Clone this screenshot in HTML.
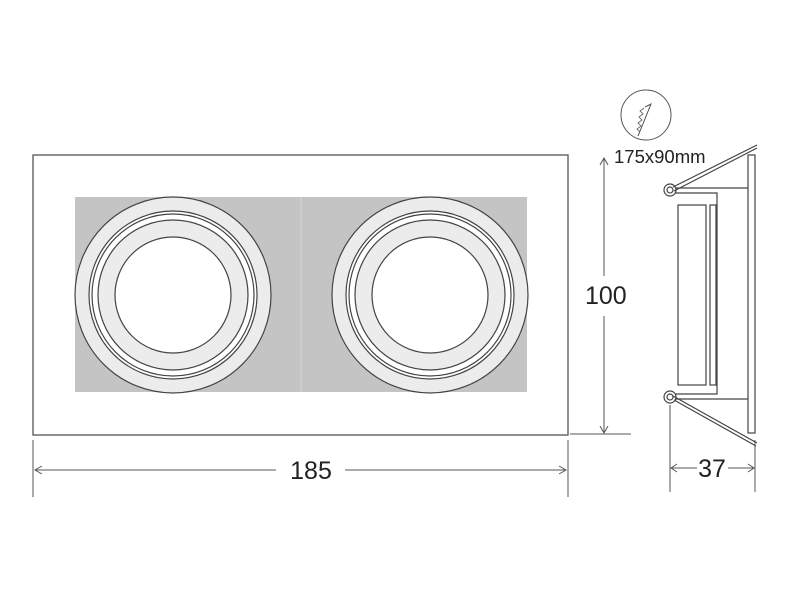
<!DOCTYPE html>
<html><head><style>body{margin:0;background:#fff}svg{display:block}</style></head><body>
<svg width="800" height="600" xmlns="http://www.w3.org/2000/svg" font-family="Liberation Sans, sans-serif">
<rect x="33" y="155" width="535" height="280" fill="#fff" stroke="#555" stroke-width="1.3"/>
<rect x="75" y="197" width="452" height="195" fill="#c4c4c4"/>
<line x1="301" y1="197" x2="301" y2="392" stroke="#d4d4d4"/>
<g stroke="#444" stroke-width="1.2">
<circle cx="173" cy="295" r="98" fill="#ececec"/>
<circle cx="173" cy="295" r="84" fill="#fff"/>
<circle cx="173" cy="295" r="81" fill="#fff"/>
<circle cx="173" cy="295" r="75" fill="#ececec"/>
<circle cx="173" cy="295" r="58" fill="#fff"/>
<circle cx="430" cy="295" r="98" fill="#ececec"/>
<circle cx="430" cy="295" r="84" fill="#fff"/>
<circle cx="430" cy="295" r="81" fill="#fff"/>
<circle cx="430" cy="295" r="75" fill="#ececec"/>
<circle cx="430" cy="295" r="58" fill="#fff"/>
</g>
<g stroke="#555" stroke-width="1" fill="none">
<line x1="35" y1="470" x2="276" y2="470"/>
<line x1="345" y1="470" x2="566" y2="470"/>
<polyline points="42,466 35,470 42,474"/>
<polyline points="559,466 566,470 559,474"/>
<line x1="33" y1="440" x2="33" y2="497"/>
<line x1="568" y1="440" x2="568" y2="497"/>
<line x1="604" y1="158" x2="604" y2="276"/>
<line x1="604" y1="316" x2="604" y2="433"/>
<polyline points="600,165 604,158 608,165"/>
<polyline points="600,426 604,433 608,426"/>
<line x1="570" y1="434" x2="631" y2="434"/>
<line x1="670" y1="405" x2="670" y2="492"/>
<line x1="755" y1="440" x2="755" y2="492"/>
<line x1="671" y1="468" x2="697" y2="468"/>
<line x1="728" y1="468" x2="754" y2="468"/>
<polyline points="677,464 671,468 677,472"/>
<polyline points="748,464 754,468 748,472"/>
<circle cx="646" cy="115" r="25"/>
<polyline points="638,136 651,104 645,107"/>
<polyline points="640,132 637,129 641,126 638,123 642,120 639,117 643,114 640,111 644,108" stroke-width="0.8"/>
</g>
<g stroke="#444" stroke-width="1.2" fill="none">
<rect x="748" y="155" width="7" height="278" fill="#fff"/>
<polyline points="672,188 748,188"/>
<polyline points="672,193 717,193 717,394 672,394"/>
<polyline points="672,399 748,399"/>
<rect x="678" y="205" width="28" height="180"/>
<rect x="710" y="205" width="6" height="180"/>
<circle cx="670" cy="190" r="6" fill="#fff"/>
<circle cx="670" cy="190" r="3"/>
<circle cx="670" cy="397" r="6" fill="#fff"/>
<circle cx="670" cy="397" r="3"/>
<line x1="673" y1="187" x2="757" y2="145"/>
<line x1="674" y1="191" x2="757" y2="148"/>
<line x1="673" y1="396" x2="757" y2="443"/>
<line x1="674" y1="400" x2="756" y2="446"/>
</g>
<g fill="#222" font-size="25">
<text x="311" y="479" text-anchor="middle">185</text>
<text x="585" y="304">100</text>
<text x="712" y="477" text-anchor="middle">37</text>
<text x="614" y="163" font-size="18.5">175x90mm</text>
</g>
</svg>
</body></html>
